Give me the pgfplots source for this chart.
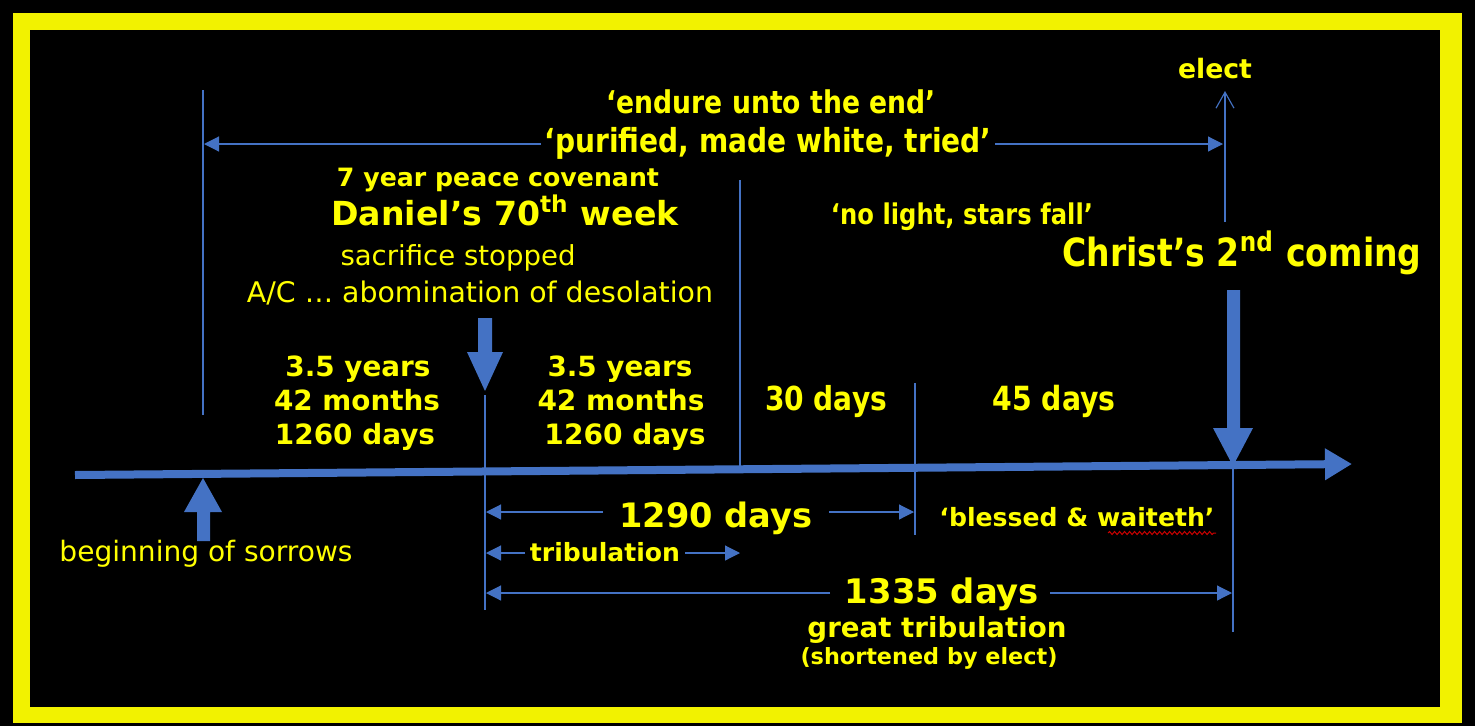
\documentclass[border=0pt]{standalone}
\usepackage{fontspec}
\setmainfont{DejaVu Sans}
\newfontfamily\cond[FakeStretch=0.85]{DejaVu Sans}
\usepackage{graphicx}
\usepackage{pgfplots}
\pgfplotsset{compat=1.18}
\usetikzlibrary{arrows.meta,decorations.pathmorphing}
\definecolor{yel}{RGB}{255,255,0}
\definecolor{frm}{RGB}{242,242,0}
\definecolor{blu}{RGB}{68,114,196}
\newcommand\W[2]{\resizebox{#1pt}{!}{\color{yel}#2}}
\tikzset{lbl/.style={inner sep=0pt,text=yel,anchor=base}}
\begin{document}
\begin{tikzpicture}
\begin{axis}[width=1475pt,height=726pt,scale only axis,
  xmin=0,xmax=1475,ymin=0,ymax=726,y dir=reverse,hide axis,clip=false]
% frame
\addplot[fill=black,draw=none] coordinates {(0,0)(1475,0)(1475,726)(0,726)};
\addplot[fill=frm,draw=none] coordinates {(13,13)(1462,13)(1462,723)(13,723)};
\addplot[fill=black,draw=none] coordinates {(30,30)(1440,30)(1440,707)(30,707)};
% thin vertical lines
\addplot[blu,line width=1.15pt] coordinates {(203,90)(203,415)};
\addplot[blu,line width=1.15pt] coordinates {(485,395)(485,610)};
\addplot[blu,line width=1.15pt] coordinates {(740,180)(740,467)};
\addplot[blu,line width=1.15pt] coordinates {(915,383)(915,535)};
\addplot[blu,line width=1.15pt] coordinates {(1233,466)(1233,632)};
\addplot[blu,line width=1.15pt,-{Straight Barb[length=16pt,width=18pt]}] coordinates {(1225,222)(1225,91)};
% horizontal span arrows
\addplot[blu,line width=1.15pt,-{Triangle[length=15pt,width=15pt]}] coordinates {(541,144)(204,144)};
\addplot[blu,line width=1.15pt,-{Triangle[length=15pt,width=15pt]}] coordinates {(995,144)(1223,144)};
\addplot[blu,line width=1.15pt,-{Triangle[length=15pt,width=15pt]}] coordinates {(603,512)(486,512)};
\addplot[blu,line width=1.15pt,-{Triangle[length=15pt,width=15pt]}] coordinates {(829,512)(914,512)};
\addplot[blu,line width=1.15pt,-{Triangle[length=15pt,width=15pt]}] coordinates {(525,553)(486,553)};
\addplot[blu,line width=1.15pt,-{Triangle[length=15pt,width=15pt]}] coordinates {(685,553)(740,553)};
\addplot[blu,line width=1.15pt,-{Triangle[length=15pt,width=15pt]}] coordinates {(830,593)(486,593)};
\addplot[blu,line width=1.15pt,-{Triangle[length=15pt,width=15pt]}] coordinates {(1050,593)(1232,593)};
% main timeline
\addplot[blu,line width=8pt,-{Triangle[length=27pt,width=30pt]}] coordinates {(75,475)(1352,464)};
% block arrows
\addplot[fill=blu,draw=none] coordinates {(478,318)(492,318)(492,352)(503,352)(485,391)(467,352)(478,352)};
\addplot[fill=blu,draw=none] coordinates {(1227,290)(1240,290)(1240,428)(1253,428)(1233,466)(1213,428)(1227,428)};
\addplot[fill=blu,draw=none] coordinates {(197,541)(210,541)(210,512)(222,512)(203,478)(184,512)(197,512)};
% red spelling squiggle
\addplot[red!80!black,line width=1pt,decorate,decoration={snake,amplitude=1.5pt,segment length=5pt}] coordinates {(1108,533)(1216,533)};
% texts
\node[lbl] at (axis cs:1215,78) {\W{74}{\bfseries elect}};
\node[lbl] at (axis cs:771,113) {\W{329}{\cond\bfseries ‘endure unto the end’}};
\node[lbl] at (axis cs:768,152) {\W{447}{\cond\bfseries ‘purified, made white, tried’}};
\node[lbl] at (axis cs:498,186) {\W{322}{\bfseries 7 year peace covenant}};
\node[lbl] at (axis cs:505,225) {\W{347}{\bfseries Daniel’s 70\textsuperscript{th} week}};
\node[lbl] at (axis cs:458,265) {\W{235}{sacrifice stopped}};
\node[lbl] at (axis cs:480,302) {\W{466}{A/C … abomination of desolation}};
\node[lbl] at (axis cs:358,376) {\W{145}{\bfseries 3.5 years}};
\node[lbl] at (axis cs:357,410) {\W{166}{\bfseries 42 months}};
\node[lbl] at (axis cs:355,444) {\W{160}{\bfseries 1260 days}};
\node[lbl] at (axis cs:620,376) {\W{145}{\bfseries 3.5 years}};
\node[lbl] at (axis cs:621,410) {\W{167}{\bfseries 42 months}};
\node[lbl] at (axis cs:625,444) {\W{161}{\bfseries 1260 days}};
\node[lbl] at (axis cs:962,224) {\W{262}{\cond\bfseries ‘no light, stars fall’}};
\node[lbl] at (axis cs:1242,266) {\W{359}{\cond\bfseries Christ’s 2\textsuperscript{nd} coming}};
\node[lbl] at (axis cs:826,410) {\W{122}{\cond\bfseries 30 days}};
\node[lbl] at (axis cs:1054,410) {\W{123}{\cond\bfseries 45 days}};
\node[lbl] at (axis cs:716,527) {\W{193}{\bfseries 1290 days}};
\node[lbl] at (axis cs:1077,526) {\W{275}{\bfseries ‘blessed \& waiteth’}};
\node[lbl] at (axis cs:605,561) {\W{150}{\bfseries tribulation}};
\node[lbl] at (axis cs:206,561) {\W{293}{beginning of sorrows}};
\node[lbl] at (axis cs:942,603) {\W{194}{\bfseries 1335 days}};
\node[lbl] at (axis cs:937,637) {\W{259}{\bfseries great tribulation}};
\node[lbl] at (axis cs:929,664) {\W{257}{\bfseries (shortened by elect)}};
\end{axis}
\end{tikzpicture}
\end{document}
